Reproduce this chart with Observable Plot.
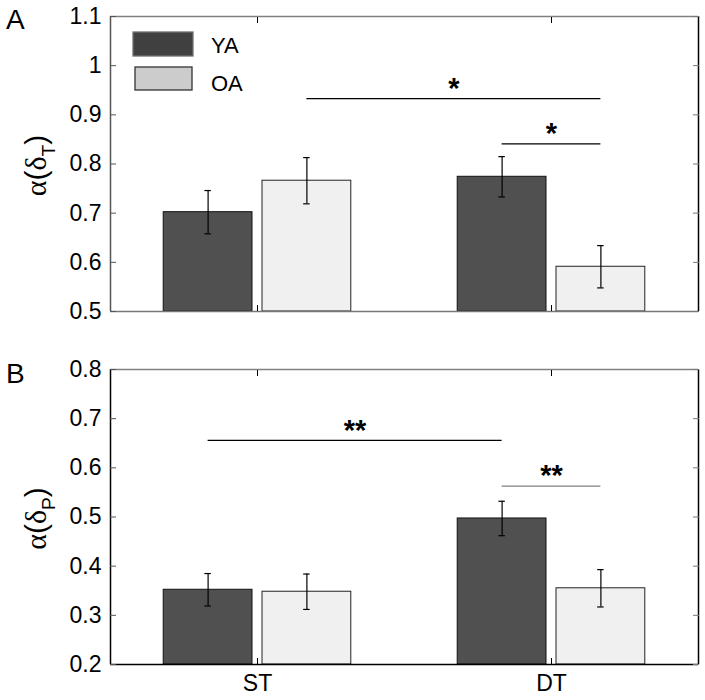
<!DOCTYPE html>
<html><head><meta charset="utf-8">
<script src="https://cdn.jsdelivr.net/npm/d3@7"></script>
<script src="https://cdn.jsdelivr.net/npm/@observablehq/plot@0.6"></script>
<style>
body{margin:0;background:#fff;}
#chart{width:705px;height:700px;}
#chart svg{display:block;}
</style>
</head><body><div id="chart"></div>
<script>
// ---- data ----
const conditions = ["ST", "DT"];
const groups = ["YA", "OA"];
// panel A: alpha(delta_T)
const tMeanYA = [0.702, 0.774];
const tErrYA  = [0.044, 0.041];
const tMeanOA = [0.766, 0.591];
const tErrOA  = [0.047, 0.043];
const tTicks  = [0.5, 0.6, 0.7, 0.8, 0.9, 1.0, 1.1];
const tSigFrom  = ["OA ST", "YA DT"];
const tSigTo    = ["OA DT", "OA DT"];
const tSigLevel = [0.933, 0.841];
const tSigLabel = ["*", "*"];
// panel B: alpha(delta_P)
const pMeanYA = [0.352, 0.497];
const pErrYA  = [0.033, 0.035];
const pMeanOA = [0.348, 0.355];
const pErrOA  = [0.036, 0.038];
const pTicks  = [0.2, 0.3, 0.4, 0.5, 0.6, 0.7, 0.8];
const pSigFrom  = ["YA ST", "YA DT"];
const pSigTo    = ["YA DT", "OA DT"];
const pSigLevel = [0.656, 0.563];
const pSigLabel = ["**", "**"];

// ---- layout ----
const OFFSET = 0.168, HALF = 0.151, CAP = 0.011;
const FONT = "'Liberation Sans', Arial, sans-serif";
const groupFill = {YA: "#505050", OA: "#f0f0f0"};
const legendFill = {YA: "#404040", OA: "#cccccc"};
function pos(key) {
  const [g, c] = key.split(" ");
  return conditions.indexOf(c) + 1 + (g === "YA" ? -OFFSET : OFFSET);
}
function rows(group, means, errs) {
  return conditions.map((c, i) => ({group, x: pos(group + " " + c), mean: means[i], err: errs[i]}));
}
const fmt = d => String(+d.toFixed(1));

function panel(o) {
  const data = [...rows("YA", o.yaMean, o.yaErr), ...rows("OA", o.oaMean, o.oaErr)];
  const sig = o.sigFrom.map((f, i) => ({x1: pos(f), x2: pos(o.sigTo[i]), y: o.sigLevel[i], label: o.sigLabel[i], i}));
  const y0 = o.ticks[0], y1 = o.ticks[o.ticks.length - 1];
  const marks = [
    Plot.rect(data.filter(d => d.group === "YA"), {x1: d => d.x - HALF, x2: d => d.x + HALF, y1: () => y0, y2: "mean", fill: groupFill.YA, stroke: "#111", strokeWidth: 1}),
    Plot.rect(data.filter(d => d.group === "OA"), {x1: d => d.x - HALF, x2: d => d.x + HALF, y1: () => y0, y2: "mean", fill: groupFill.OA, stroke: "#222", strokeWidth: 1}),
    Plot.ruleX(data, {x: "x", y1: d => d.mean - d.err, y2: d => d.mean + d.err, stroke: "black", strokeWidth: 1.2}),
    Plot.ruleY(data, {y: d => d.mean + d.err, x1: d => d.x - CAP, x2: d => d.x + CAP, stroke: "black", strokeWidth: 1.2}),
    Plot.ruleY(data, {y: d => d.mean - d.err, x1: d => d.x - CAP, x2: d => d.x + CAP, stroke: "black", strokeWidth: 1.2}),
    Plot.ruleY(sig, {y: "y", x1: "x1", x2: "x2", stroke: d => (o.graySecond && d.i === 1) ? "#808080" : "black", strokeWidth: 1.3}),
    Plot.text(sig, {x: d => (d.x1 + d.x2) / 2, y: "y", text: "label", dy: -10, fontSize: 29, fontWeight: "bold", fill: "black"}),
    // frame
    Plot.ruleY([y1], {stroke: "#808080", strokeWidth: 1.5}),
    Plot.ruleY([y0], {stroke: o.bottomColor, strokeWidth: 1.5}),
    Plot.ruleX([0.5], {stroke: o.leftColor, strokeWidth: 1.5}),
    Plot.ruleX([2.5], {stroke: "black", strokeWidth: 1.5}),
    // y axis labels and inward ticks
    Plot.axisY({ticks: o.ticks, tickSize: 0, tickPadding: 9, tickFormat: fmt, fontSize: 23, label: null}),
    Plot.axisY({ticks: o.ticks, tickSize: 6, dx: 6, tickFormat: () => "", label: null, stroke: "#555"}),
    Plot.axisY({ticks: o.ticks, anchor: "right", tickSize: 6, dx: -6, tickFormat: () => "", label: null, stroke: "#777"}),
    // x inward ticks
    Plot.axisX({ticks: [1, 2], anchor: "bottom", tickSize: 6, dy: -6, tickFormat: () => "", label: null}),
    Plot.axisX({ticks: [1, 2], anchor: "top", tickSize: 6, dy: 6, tickFormat: () => "", label: null})
  ];
  if (o.showX) marks.push(Plot.axisX({ticks: [1, 2], anchor: "bottom", tickSize: 0, tickPadding: 10, tickFormat: d => conditions[d - 1], fontSize: 23, label: null}));
  const svg = Plot.plot({
    width: 705, height: o.height,
    marginTop: o.marginTop, marginBottom: o.marginBottom, marginLeft: 110, marginRight: 7,
    x: {type: "linear", domain: [0.5, 2.5]},
    y: {domain: [y0, y1]},
    style: {fontFamily: FONT, fontSize: "23px", color: "black", background: "white", overflow: "visible"},
    marks
  });
  const s = d3.select(svg);
  const cy = o.marginTop + (o.height - o.marginTop - o.marginBottom) / 2;
  // panel letter
  s.append("text").attr("x", 6).attr("y", o.letterY).attr("text-anchor", "start").attr("font-family", FONT).attr("font-size", 28).attr("fill", "black").text(o.letter);
  // y label with subscript
  const t = s.append("text").attr("transform", `translate(46,${cy + 2}) rotate(-90)`).attr("text-anchor", "middle")
    .attr("font-family", FONT).attr("font-size", 30).attr("fill", "black");
  t.append("tspan").attr("font-family", "'Liberation Serif', serif").text("α");
  t.append("tspan").text("(");
  t.append("tspan").attr("font-family", "'Liberation Serif', serif").text("δ");
  t.append("tspan").attr("dy", 9).attr("font-size", 19).text(o.sub);
  t.append("tspan").attr("dy", -9).text(")");
  if (o.legend) {
    const items = [
      {g: groups[0], x: 133, y: 32, w: 60, h: 24, stroke: "#707070", ty: 53},
      {g: groups[1], x: 135, y: 67, w: 57, h: 23, stroke: "#333", ty: 91}
    ];
    for (const it of items) {
      s.append("rect").attr("x", it.x).attr("y", it.y).attr("width", it.w).attr("height", it.h)
        .attr("fill", legendFill[it.g]).attr("stroke", it.stroke).attr("stroke-width", 1.3);
      s.append("text").attr("x", 211).attr("y", it.ty).attr("text-anchor", "start").attr("font-family", FONT).attr("font-size", 22).attr("fill", "black").text(it.g);
    }
  }
  return svg;
}

const root = document.getElementById("chart");
root.appendChild(panel({
  letter: "A", letterY: 29, sub: "T", legend: true, showX: false,
  ticks: tTicks, yaMean: tMeanYA, yaErr: tErrYA, oaMean: tMeanOA, oaErr: tErrOA,
  sigFrom: tSigFrom, sigTo: tSigTo, sigLevel: tSigLevel, sigLabel: tSigLabel,
  height: 340, marginTop: 16, marginBottom: 29, bottomColor: "#777", leftColor: "#555", graySecond: false
}));
root.appendChild(panel({
  letter: "B", letterY: 43, sub: "P", legend: false, showX: true,
  ticks: pTicks, yaMean: pMeanYA, yaErr: pErrYA, oaMean: pMeanOA, oaErr: pErrOA,
  sigFrom: pSigFrom, sigTo: pSigTo, sigLevel: pSigLevel, sigLabel: pSigLabel,
  height: 360, marginTop: 29, marginBottom: 36, bottomColor: "black", leftColor: "black", graySecond: true
}));
</script>
</body></html>
